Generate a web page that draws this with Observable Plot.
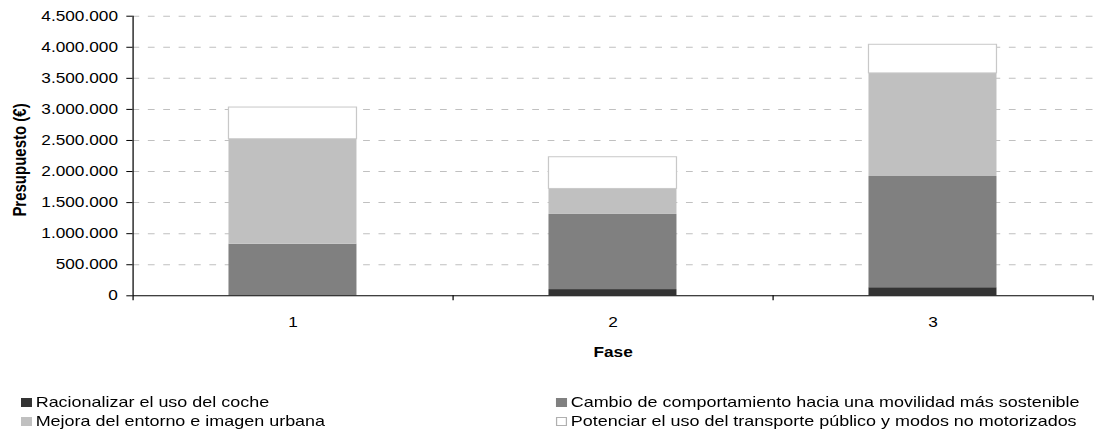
<!DOCTYPE html>
<html><head><meta charset="utf-8">
<script src="https://cdn.jsdelivr.net/npm/d3@7"></script>
<script src="https://cdn.jsdelivr.net/npm/@observablehq/plot@0.6"></script>
<style>
html,body{margin:0;padding:0;background:#fff;}
#wrap{position:relative;width:897px;height:442px;transform:scaleX(1.23);transform-origin:0 0;font-family:Arial,"Liberation Sans",sans-serif;}
#wrap svg{display:block;}
#legend{position:absolute;left:0;top:0;width:897px;height:442px;font-size:14.6px;color:#000;pointer-events:none;}
.item{position:absolute;display:flex;align-items:center;height:19px;white-space:nowrap;}
.sw{width:9px;height:9px;box-sizing:border-box;margin-right:3px;flex:none;}
</style></head><body><div id="wrap"></div>
<script>
// ---- data ----
const fases = [1, 2, 3];
const series = [
  "Racionalizar el uso del coche",
  "Cambio de comportamiento hacia una movilidad más sostenible",
  "Mejora del entorno e imagen urbana",
  "Potenciar el uso del transporte público y modos no motorizados"
];
const colores = ["#333333", "#808080", "#c0c0c0", "#ffffff"];
const racionalizar = [0, 100000, 130000];
const cambio = [830000, 1210000, 1790000];
const mejora = [1690000, 410000, 1660000];
const potenciar = [510000, 510000, 460000];
const yTicks = [0, 500000, 1000000, 1500000, 2000000, 2500000, 3000000, 3500000, 4000000, 4500000];
const yLabel = "Presupuesto (€)";
const xLabel = "Fase";

// ---- table ----
const valores = [racionalizar, cambio, mejora, potenciar];
const rows = [];
series.forEach((s, i) => fases.forEach((f, j) => rows.push({fase: f, serie: s, valor: valores[i][j]})));

const fmt = d3.formatLocale({decimal: ",", thousands: ".", grouping: [3], currency: ["", " €"]}).format(",d");
const bounds = fases.map(f => f - 0.5).concat([fases[fases.length - 1] + 0.5]);
const half = 0.2;

const chart = Plot.plot({
  width: 897,
  height: 375,
  marginLeft: 107.7,
  marginRight: 8.8,
  marginTop: 15.7,
  marginBottom: 79.7,
  style: {fontFamily: "Arial, 'Liberation Sans', sans-serif", fontSize: "14px", color: "#000", background: "#fff", overflow: "visible"},
  x: {domain: [bounds[0], bounds[bounds.length - 1]]},
  y: {domain: [0, yTicks[yTicks.length - 1]]},
  color: {domain: series, range: colores},
  marks: [
    Plot.ruleY(yTicks.slice(1), {stroke: "#c0c0c0", strokeDasharray: "5.5,7"}),
    Plot.rectY(rows, Plot.stackY({x1: d => d.fase - half, x2: d => d.fase + half, y: "valor", z: "serie", fill: "serie", order: series})),
    Plot.rectY(rows, Plot.stackY({x1: d => d.fase - half, x2: d => d.fase + half, y: "valor", z: "serie", fill: "none", stroke: "#c8c8c8",
      strokeOpacity: d => (d.serie === series[3] ? 1 : 0), order: series})),
    Plot.axisY({ticks: yTicks, tickFormat: fmt, tickSize: 5, tickPadding: 7.3, label: null, stroke: "#000"}),
    Plot.axisX({ticks: fases, tickSize: 0, tickPadding: 21, tickFormat: d => String(d), label: null}),
    Plot.axisX({ticks: bounds, tickSize: 5, tickFormat: () => "", label: null, stroke: "#000"}),
    Plot.ruleX([bounds[0]], {stroke: "#000"}),
    Plot.ruleY([0], {stroke: "#000"}),
    Plot.text([yLabel], {frameAnchor: "left", rotate: -90, dx: -92, dy: 4, textAnchor: "middle", lineAnchor: "middle", fontWeight: "bold", fontSize: 15}),
    Plot.text([xLabel], {frameAnchor: "bottom", lineAnchor: "top", dy: 51.4, fontWeight: "bold", fontSize: 14})
  ]
});

const wrap = document.getElementById("wrap");
wrap.appendChild(chart);

// ---- legend ----
const legend = document.createElement("div");
legend.id = "legend";
const pos = [[17, 392.5], [452, 392.5], [17, 411.5], [452, 411.5]];
series.forEach((s, i) => {
  const it = document.createElement("div");
  it.className = "item";
  it.style.left = pos[i][0] + "px";
  it.style.top = pos[i][1] + "px";
  const sw = document.createElement("span");
  sw.className = "sw";
  sw.style.background = colores[i];
  if (colores[i] === "#ffffff") sw.style.border = "1px solid #b0b0b0";
  const t = document.createElement("span");
  t.textContent = s;
  it.appendChild(sw);
  it.appendChild(t);
  legend.appendChild(it);
});
wrap.appendChild(legend);
</script>
</body></html>
